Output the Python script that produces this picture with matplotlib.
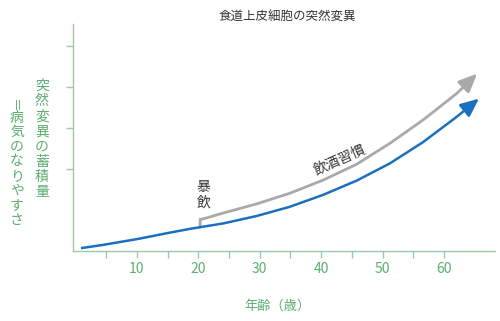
import numpy as np
import matplotlib.pyplot as plt

plt.rcParams['font.family'] = ['Noto Sans CJK JP', 'DejaVu Sans']

# データ
age_base = [0.9, 4.5, 10.0, 15.4, 18.6, 24.1, 29.5, 34.9, 40.3, 45.8, 51.2, 56.6, 62.1, 65.7]
mut_base = [0.07, 0.15, 0.29, 0.45, 0.54, 0.675, 0.855, 1.08, 1.37, 1.72, 2.14, 2.66, 3.28, 3.72]

age_drink = [20.3, 20.3, 21.4, 24.1, 29.5, 34.9, 40.3, 45.8, 51.2, 56.6, 62.1, 65.4]
mut_drink = [0.58, 0.77, 0.81, 0.93, 1.15, 1.41, 1.73, 2.12, 2.63, 3.20, 3.85, 4.33]

x_major = [10, 20, 30, 40, 50, 60]
x_minor = [5, 15, 25, 35, 45, 55]
y_ticks = [2, 3, 4, 5]

title = '食道上皮細胞の突然変異'
xlabel = '年齢（歳）'
ylabel1 = '突然変異の蓄積量'
ylabel2 = '＝病気のなりやすさ'

green = '#5aae70'
spine_green = '#9cc8a8'
blue = '#1a6fbf'
gray = '#a9a9a9'
dark = '#333333'

fig = plt.figure(figsize=(5.0, 3.21), dpi=100)
ax = fig.add_axes([0.146, 0.218, 0.844, 0.707])

# 線と矢印
ax.plot(age_drink[:-1], mut_drink[:-1], color=gray, lw=2.0, solid_capstyle='butt',
        solid_joinstyle='miter')
ax.annotate('', xy=(age_drink[-1], mut_drink[-1]), xytext=(age_drink[-2], mut_drink[-2]),
            arrowprops=dict(arrowstyle='-|>,head_length=0.8,head_width=0.35', color=gray,
                            lw=2.0, mutation_scale=14, shrinkA=0, shrinkB=0))
ax.plot(age_base[:-1], mut_base[:-1], color=blue, lw=1.8, solid_capstyle='butt')
ax.annotate('', xy=(age_base[-1], mut_base[-1]), xytext=(age_base[-2], mut_base[-2]),
            arrowprops=dict(arrowstyle='-|>,head_length=0.8,head_width=0.35', color=blue,
                            lw=1.8, mutation_scale=14, shrinkA=0, shrinkB=0))

ax.set_xlim(-0.4, 68.3)
ax.set_ylim(0, 5.54)

ax.set_xticks(x_major)
ax.set_xticks(x_minor, minor=True)
ax.set_yticks(y_ticks)
ax.set_yticklabels([])
ax.tick_params(axis='x', which='both', direction='out', length=5, width=1,
               color=spine_green, labelcolor=green, labelsize=10, pad=3)
ax.tick_params(axis='y', direction='out', length=5, width=1, color=spine_green)

for s in ['top', 'right']:
    ax.spines[s].set_visible(False)
for s in ['left', 'bottom']:
    ax.spines[s].set_color(spine_green)
    ax.spines[s].set_linewidth(1)

# テキスト
fig.text(0.574, 0.945, title, ha='center', va='center', fontsize=9, color=dark)
fig.text(0.555, 0.045, xlabel, ha='center', va='center', fontsize=9.5, color=green)

# 縦書きラベル
for i, ch in enumerate(ylabel1):
    fig.text(42 / 500, 1 - (86 + i * 15.2) / 321, ch, ha='center', va='center',
             fontsize=10, color=green)
for i, ch in enumerate(ylabel2):
    rot = 90 if ch == '＝' else 0
    fig.text(17 / 500, 1 - (103 + i * 14.6) / 321, ch, ha='center', va='center',
             fontsize=10, color=green, rotation=rot)

# 注記
for i, ch in enumerate('暴飲'):
    ax.text(20.8, 1.56 - i * 0.37, ch, ha='center', va='center', fontsize=10, color=dark)
ax.text(43.0, 2.24, '飲酒習慣', ha='center', va='center', fontsize=10, color=dark,
        rotation=24)

fig.savefig('out.png', dpi=100)
